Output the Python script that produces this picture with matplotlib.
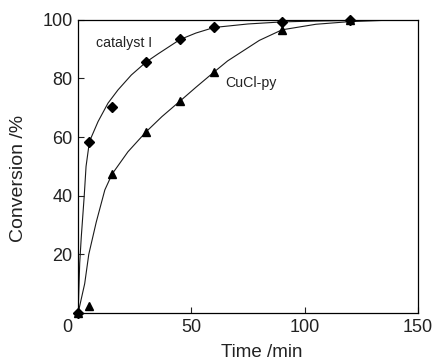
import matplotlib.pyplot as plt
import matplotlib.transforms as mtransforms

plt.rcParams['font.family'] = ['Liberation Sans', 'DejaVu Sans']

# measured points
cat_t = [0, 5, 15, 30, 45, 60, 90, 120]
cat_y = [0, 58.4, 70.3, 85.7, 93.5, 97.6, 99.3, 100]
cu_t = [0, 5, 15, 30, 45, 60, 90, 120]
cu_y = [0, 2.4, 47.4, 61.8, 72.3, 82.2, 96.6, 100]

# fitted curves
cat_fit_t = [0, 0.7, 1.4, 2.7, 3.5, 5, 8.8, 13.2, 17.6, 23.5, 30, 35.3, 45, 52, 60, 75, 90, 105, 120, 141]
cat_fit_y = [0, 17, 26, 40, 50, 58.5, 65.3, 71.6, 76.1, 81.2, 85.6, 88.4, 93.3, 95.5, 97.4, 98.6, 99.3, 99.6, 99.8, 100]
cu_fit_t = [0, 2.9, 4.7, 8, 11.8, 15, 22, 30, 37, 45, 52, 60, 66, 72, 80, 90, 105, 120, 141]
cu_fit_y = [0, 10, 20, 31, 42, 47.4, 55, 61.8, 67, 72.3, 77, 82.2, 86, 89, 93, 96.6, 98.5, 99.4, 100]

fig = plt.figure(figsize=(4.34, 3.61), dpi=100)
ax = fig.add_axes([0.18, 0.133, 0.783, 0.812])

ax.plot(cat_fit_t, cat_fit_y, color='#1a1a1a', linewidth=0.8)
ax.plot(cu_fit_t, cu_fit_y, color='#1a1a1a', linewidth=0.8)
ax.plot(cat_t, cat_y, 'D', color='black', markersize=5, clip_on=False)
ax.plot(cu_t, cu_y, '^', color='black', markersize=6, clip_on=False)

ax.text(8, 92.2, 'catalyst I', fontsize=10.2, color='#222222', va='center')
ax.text(65, 78.5, 'CuCl-py', fontsize=10.2, color='#222222', va='center')

ax.set_xlim(0, 150)
ax.set_ylim(0, 100)
ax.set_xticks([0, 50, 100, 150])
ax.set_yticks([0, 20, 40, 60, 80, 100])
ax.set_yticklabels(['', '20', '40', '60', '80', '100'])
ax.tick_params(direction='in', length=4.3, width=0.8, labelsize=13, colors='#222222')
ax.tick_params(axis='y', pad=4)
ax.tick_params(axis='x', pad=4.5)
for s in ax.spines.values():
    s.set_linewidth(0.9)

# the "0" sits left of the corner
lab0 = ax.get_xticklabels()[0]
lab0.set_transform(lab0.get_transform() + mtransforms.ScaledTranslation(-0.11, 0, fig.dpi_scale_trans))

ax.set_xlabel('Time /min', fontsize=13.5, color='#222222', va='baseline')
ax.set_ylabel('Conversion /%', fontsize=14, color='#222222', va='center')
ax.xaxis.set_label_coords(0.541, -0.150)
ax.yaxis.set_label_coords(-0.176, 0.459)

fig.savefig('out.png', dpi=100)
